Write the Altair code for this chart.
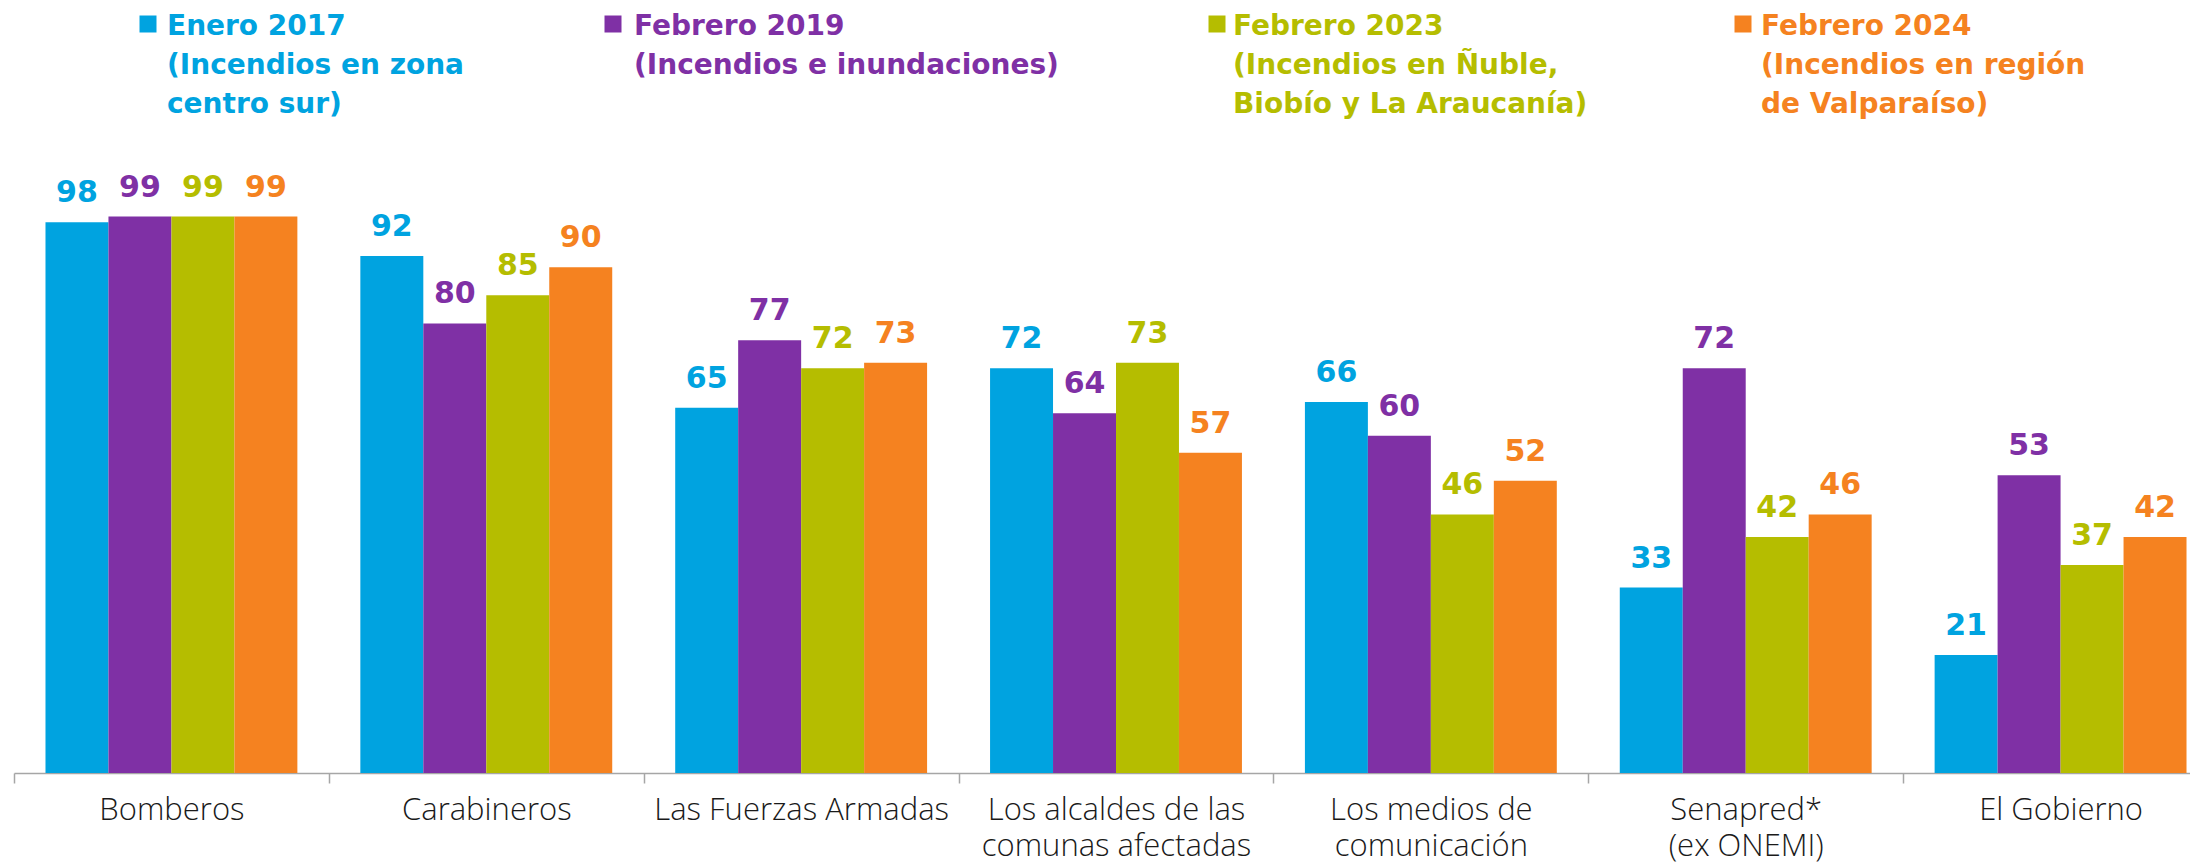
import altair as alt
import pandas as pd

CATEGORIES = [
    "Bomberos",
    "Carabineros",
    "Las Fuerzas Armadas",
    "Los alcaldes de las|comunas afectadas",
    "Los medios de|comunicación",
    "Senapred*|(ex ONEMI)",
    "El Gobierno",
]
SERIES = ["Enero 2017", "Febrero 2019", "Febrero 2023", "Febrero 2024"]
SERIES_SUB = [
    "(Incendios en zona\ncentro sur)",
    "(Incendios e inundaciones)",
    "(Incendios en Ñuble,\nBiobío y La Araucanía)",
    "(Incendios en región\nde Valparaíso)",
]
ENERO_2017 = [98, 92, 65, 72, 66, 33, 21]
FEBRERO_2019 = [99, 80, 77, 64, 60, 72, 53]
FEBRERO_2023 = [99, 85, 72, 73, 46, 42, 37]
FEBRERO_2024 = [99, 90, 73, 57, 52, 46, 42]
COLORS = ["#00a3e0", "#7f30a5", "#b5bd00", "#f58220"]

# layout constants (pixels relative to plot area)
LEGEND_SQUARE_X = [134, 599, 1203, 1729]
LEGEND_TEXT_X = [153, 620, 1219, 1747]
LEGEND_SQUARE_Y = -187
LEGEND_TEXT_Y = -176

values = [ENERO_2017, FEBRERO_2019, FEBRERO_2023, FEBRERO_2024]
rows = []
for s, vals in zip(SERIES, values):
    for c, v in zip(CATEGORIES, vals):
        rows.append({"cat": c, "series": s, "value": v})
df = pd.DataFrame(rows)

legend_df = pd.DataFrame(
    {"series": SERIES, "label": [s + "\n" + sub for s, sub in zip(SERIES, SERIES_SUB)]}
)

color = alt.Color("series:N", sort=SERIES,
                  scale=alt.Scale(domain=SERIES, range=COLORS), legend=None)

x = alt.X(
    "cat:N",
    sort=CATEGORIES,
    scale=alt.Scale(paddingInner=0, paddingOuter=0, range=[0, 2204]),
    axis=alt.Axis(
        title=None,
        labelExpr="split(datum.label, '|')",
        tickBand="extent",
        labelAngle=0,
        labelFont="Open Sans",
        labelFontWeight=300,
        labelFontSize=31,
        labelColor="#1a1a1a",
        labelLineHeight=36,
        labelBaseline="top",
        labelPadding=12,
        labelLimit=0,
        tickSize=10,
        tickColor="#a6a6a6",
        tickWidth=1.5,
        domainColor="#a6a6a6",
        domainWidth=1.5,
        labelOverlap=False,
    ),
)
xo = alt.XOffset("series:N", sort=SERIES,
                 scale=alt.Scale(paddingInner=0, paddingOuter=0.5))
y = alt.Y("value:Q", scale=alt.Scale(domain=[0, 100], nice=False), axis=None)

base = alt.Chart(df)
bars = base.mark_bar(stroke=None).encode(x=x, xOffset=xo, y=y, color=color)
labels = base.mark_text(
    font="DejaVu Sans", fontWeight="bold", fontSize=30,
    baseline="alphabetic", dy=-20, align="center",
).encode(x=x, xOffset=xo, y=y, text="value:Q", color=color)

layers = [bars, labels]
for i, s in enumerate(SERIES):
    sq = alt.Chart(legend_df).transform_filter(
        alt.datum.series == s
    ).mark_square(size=289, opacity=1, filled=True).encode(
        x=alt.value(LEGEND_SQUARE_X[i]), y=alt.value(LEGEND_SQUARE_Y), color=color
    )
    tx = alt.Chart(legend_df).transform_filter(
        alt.datum.series == s
    ).mark_text(
        align="left", baseline="alphabetic", font="DejaVu Sans",
        fontWeight="bold", fontSize=28, lineHeight=39, lineBreak="\n",
    ).encode(
        x=alt.value(LEGEND_TEXT_X[i]), y=alt.value(LEGEND_TEXT_Y),
        text="label:N", color=color
    )
    layers += [sq, tx]

chart = alt.layer(*layers).properties(
    width=2176,
    height=562,
    background="white",
    autosize=alt.AutoSizeParams(type="none"),
    padding={"left": 6, "top": 203, "right": 0, "bottom": 91},
).configure_view(strokeWidth=0, stroke=None)

chart.save("out.html", embed_options={"renderer": "svg", "actions": False})
